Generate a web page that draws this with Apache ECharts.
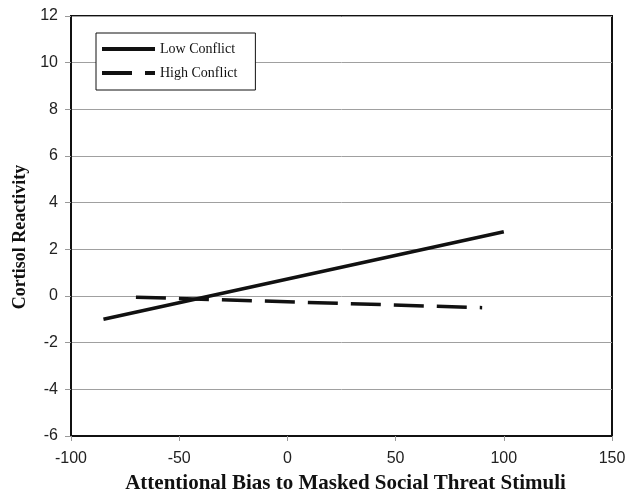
<!DOCTYPE html>
<html>
<head>
<meta charset="utf-8">
<script src="https://cdn.jsdelivr.net/npm/echarts@6/dist/echarts.min.js"></script>
<style>
  html, body { margin: 0; padding: 0; background: #fff; }
  #chart { width: 628px; height: 496px; }
</style>
</head>
<body>
<div id="chart"></div>
<script>
// values
const lowConflict  = [[-85, -1.0], [100, 2.75]];
const highConflict = [[-70, -0.05], [90, -0.5]];
const seriesNames  = ['Low Conflict', 'High Conflict'];
const xTitle = 'Attentional Bias to Masked Social Threat Stimuli';
const yTitle = 'Cortisol Reactivity';

const chart = echarts.init(document.getElementById('chart'));

const serif = '"Liberation Serif", "Times New Roman", serif';
const sans  = '"Liberation Sans", Arial, sans-serif';

chart.setOption({
  animation: false,
  grid: {
    left: 71, right: 16, top: 16, bottom: 60,
    outerBoundsMode: 'none',
    show: true, borderColor: '#111', borderWidth: 2
  },
  legend: {
    orient: 'vertical',
    left: 96, top: 33,
    padding: [9, 18, 10, 4],
    itemWidth: 53, itemHeight: 14, itemGap: 10,
    itemStyle: { opacity: 0 },
    lineStyle: { width: 4 },
    borderColor: '#111', borderWidth: 1,
    backgroundColor: '#fff',
    textStyle: { fontFamily: serif, fontSize: 14, color: '#111' },
    data: seriesNames
  },
  xAxis: {
    type: 'value',
    min: -100, max: 150, interval: 50,
    name: xTitle,
    nameLocation: 'middle',
    nameGap: 37,
    nameTextStyle: { fontFamily: serif, fontSize: 21, fontWeight: 'bold', color: '#111', padding: [0, 0, 0, 8] },
    axisLine: { onZero: false, lineStyle: { color: '#111', width: 2 } },
    axisTick: { show: true, length: 5, lineStyle: { color: '#999' } },
    axisLabel: { fontFamily: sans, fontSize: 16, color: '#222', margin: 15 },
    splitLine: { show: false }
  },
  yAxis: {
    type: 'value',
    min: -6, max: 12, interval: 2,
    name: yTitle,
    nameLocation: 'middle',
    nameGap: 41,
    nameTextStyle: { fontFamily: serif, fontSize: 18, fontWeight: 'bold', color: '#111', padding: [0, 22, 0, 0] },
    axisLine: { show: true, onZero: false, lineStyle: { color: '#111', width: 2 } },
    axisTick: { show: true, length: 6, lineStyle: { color: '#999' } },
    axisLabel: { fontFamily: sans, fontSize: 16, color: '#222', margin: 13 },
    splitLine: { lineStyle: { color: '#a0a0a0', width: 1 } }
  },
  series: [
    {
      name: seriesNames[0], type: 'line', data: lowConflict,
      symbol: 'none', color: '#111',
      lineStyle: { color: '#111', width: 3.5 }
    },
    {
      name: seriesNames[1], type: 'line', data: highConflict,
      symbol: 'none', color: '#111',
      lineStyle: { color: '#111', width: 3.5, type: [30, 13] }
    }
  ]
});
</script>
</body>
</html>
